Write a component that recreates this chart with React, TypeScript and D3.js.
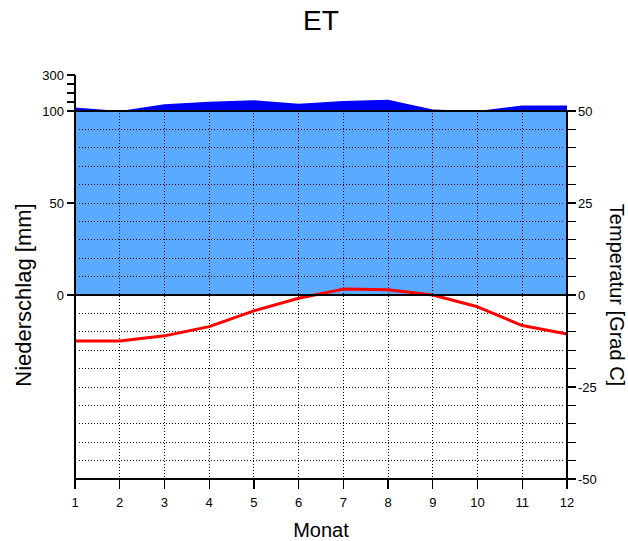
import React from 'react';
import * as d3 from 'd3';

const months = [1, 2, 3, 4, 5, 6, 7, 8, 9, 10, 11, 12];
const precipitation = [120, 100, 137, 152, 160, 140, 155, 162, 108, 100, 130, 130];
const temperature = [-12.5, -12.5, -11.1, -8.6, -4.3, -0.9, 1.6, 1.4, 0, -3.2, -8.3, -10.6];
const precipTicks = [0, 50, 100, 150, 200, 250, 300];
const precipLabels = [0, 50, 100, 300];
const tempTicks = d3.range(-50, 51, 5);
const tempLabels = [-50, -25, 0, 25, 50];

const font = "'Liberation Sans', Arial, sans-serif";

const App = () => {
  const width = 628;
  const height = 541;
  const left = 75;
  const right = 567;
  const top = 111;
  const bottom = 479;

  const x = d3.scaleLinear().domain([1, 12]).range([left, right]);
  const yT = d3.scaleLinear().domain([-50, 50]).range([bottom, top]);
  // precipitation: 2 mm = 1 degree up to 100 mm, compressed 1/10 above
  const yP = d3.scaleLinear().domain([0, 100, 300]).range([yT(0), yT(50), 75]);

  const idx = months.map((_, i) => i);

  const wetArea = d3.area<number>()
    .x(i => x(months[i]))
    .y0(yP(0))
    .y1(i => yP(Math.min(precipitation[i], 100)));

  const surplusArea = d3.area<number>()
    .x(i => x(months[i]))
    .y0(yP(100))
    .y1(i => yP(Math.max(precipitation[i], 100)));

  const tempLine = d3.line<number>()
    .x(i => x(months[i]))
    .y(i => yT(temperature[i]));

  const gridY = tempTicks.filter(t => t !== 0 && Math.abs(t) !== 50);
  const gridX = months.slice(1, -1);

  return (
    <svg width={width} height={height} style={{ position: 'absolute', left: 0, top: 0, background: '#fff' }}>
      <text x={321} y={30} textAnchor="middle" fontFamily={font} fontSize={28}>ET</text>

      <path d={wetArea(idx) || ''} fill="#5aaaff" />
      <path d={surplusArea(idx) || ''} fill="#0000ff" />

      <g stroke="#000" strokeWidth={1} strokeDasharray="1,2" shapeRendering="crispEdges">
        {gridY.map(t => (
          <line key={'h' + t} x1={left + 4} x2={right - 2} y1={yT(t)} y2={yT(t)} />
        ))}
        {gridX.map(m => (
          <line key={'v' + m} x1={x(m)} x2={x(m)} y1={top + 2} y2={bottom} />
        ))}
      </g>

      <path d={tempLine(idx) || ''} fill="none" stroke="#ff0000" strokeWidth={3} strokeLinejoin="round" />

      <g stroke="#000" strokeWidth={1.2} shapeRendering="crispEdges">
        <line x1={left} x2={left} y1={yP(300)} y2={bottom} />
        <line x1={right} x2={right} y1={top} y2={bottom} />
        <line x1={left} x2={right} y1={bottom} y2={bottom} />
        <line x1={left} x2={right} y1={yT(0)} y2={yT(0)} />
        <line x1={left} x2={right} y1={top} y2={top} />
        {precipTicks.map(p => (
          <line key={'pt' + p} x1={left - 8} x2={left} y1={yP(p)} y2={yP(p)} />
        ))}
        {tempTicks.map(t => (
          <line key={'tt' + t} x1={right} x2={right + 9} y1={yT(t)} y2={yT(t)} />
        ))}
        {months.map(m => (
          <line key={'mt' + m} x1={x(m)} x2={x(m)} y1={bottom} y2={bottom + 10} />
        ))}
      </g>

      <g fontFamily={font} fontSize={13} fill="#000">
        {precipLabels.map(p => (
          <text key={'pl' + p} x={left - 11} y={yP(p)} dy="0.35em" textAnchor="end">{p}</text>
        ))}
        {tempLabels.map(t => (
          <text key={'tl' + t} x={right + 11} y={yT(t)} dy="0.35em" textAnchor="start">{t}</text>
        ))}
        {months.map(m => (
          <text key={'ml' + m} x={x(m)} y={507} textAnchor="middle">{m}</text>
        ))}
      </g>

      <text x={321} y={537} textAnchor="middle" fontFamily={font} fontSize={20}>Monat</text>
      <text transform={`translate(31, ${yT(0)}) rotate(-90)`} textAnchor="middle" fontFamily={font} fontSize={22}>
        Niederschlag [mm]
      </text>
      <text transform={`translate(610, ${yT(0)}) rotate(90)`} textAnchor="middle" fontFamily={font} fontSize={20}>
        Temperatur [Grad C]
      </text>
    </svg>
  );
};

export default App;
